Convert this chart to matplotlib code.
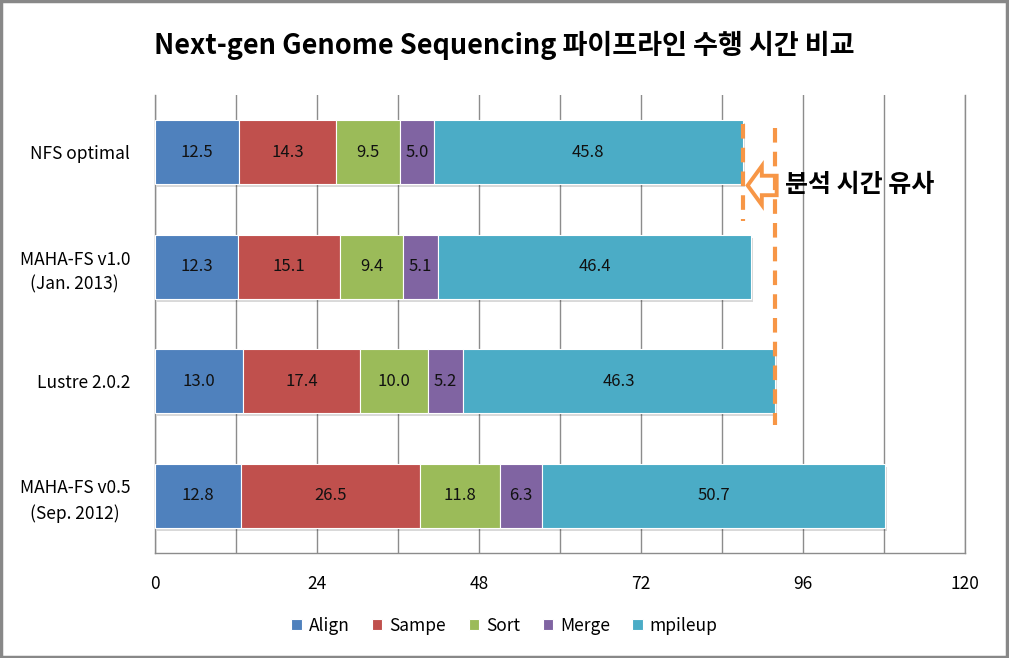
import matplotlib
matplotlib.use("Agg")
import matplotlib.pyplot as plt
from matplotlib.patches import Polygon, Rectangle
import numpy as np

plt.rcParams['font.family'] = ['Noto Sans CJK KR', 'DejaVu Sans']

categories = ["NFS optimal", "MAHA-FS v1.0\n(Jan. 2013)", "Lustre 2.0.2", "MAHA-FS v0.5\n(Sep. 2012)"]
series_names = ["Align", "Sampe", "Sort", "Merge", "mpileup"]
align = [12.5, 12.3, 13.0, 12.8]
sampe = [14.3, 15.1, 17.4, 26.5]
sort_ = [9.5, 9.4, 10.0, 11.8]
merge = [5.0, 5.1, 5.2, 6.3]
mpileup = [45.8, 46.4, 46.3, 50.7]
colors = ["#4F81BD", "#C0504D", "#9BBB59", "#8064A2", "#4BACC6"]
xticks = [0, 24, 48, 72, 96, 120]
title = "Next-gen Genome Sequencing 파이프라인 수행 시간 비교"
note = "분석 시간 유사"

data = [align, sampe, sort_, merge, mpileup]

fig = plt.figure(figsize=(10.09, 6.58), dpi=100)
ax = fig.add_axes([155/1009, 1-553/658, (965-155)/1009, (553-95)/658])

y = np.arange(len(categories))
left = np.zeros(len(categories))
for name, vals, c in zip(series_names, data, colors):
    vals = np.array(vals)
    # shadow
    ax.barh(y + 0.025, vals, left=left + 0.3, height=0.56, color="#000000", alpha=0.15, zorder=2, linewidth=0)
    ax.barh(y, vals, left=left, height=0.56, color=c, edgecolor="white", linewidth=0.8, label=name, zorder=3)
    for yi, (l, v) in enumerate(zip(left, vals)):
        ax.text(l + v/2, yi, f"{v:.1f}", ha="center", va="center", fontsize=12, color="#111111", zorder=4)
    left = left + vals

totals = left
ax.set_xlim(0, 120)
ax.set_ylim(3.5, -0.5)
ax.set_yticks(y)
ax.set_yticklabels(categories, fontsize=12.5, linespacing=1.45, multialignment="center")
grid_vals = np.arange(0, 121, 12)
ax.set_xticks(grid_vals)
ax.set_xticklabels([str(v) if v in xticks else "" for v in grid_vals], fontsize=12.5)
ax.tick_params(axis="x", length=0, pad=16)
ax.tick_params(axis="y", length=0, pad=18)
ax.grid(axis="x", color="#8C8C8C", linewidth=1.0, zorder=0)
ax.axvline(120, color="#8C8C8C", linewidth=1.0, zorder=0, clip_on=False)
for s in ["top", "right"]:
    ax.spines[s].set_visible(False)
ax.spines["left"].set_color("#8C8C8C")
ax.spines["bottom"].set_color("#8C8C8C")
ax.spines["left"].set_linewidth(1.0)
ax.spines["bottom"].set_linewidth(1.0)
ax.spines["bottom"].set_zorder(1)

orange = "#F79646"
# dashed lines at totals of NFS optimal and Lustre
ax.plot([totals[0], totals[0]], [-0.25, 0.6], color=orange, lw=3, ls=(0, (3.5, 2.2)), zorder=5)
ax.plot([totals[2], totals[2]], [-0.21, 2.38], color=orange, lw=3, ls=(0, (3.5, 2.2)), zorder=5)
# hollow arrow pointing left
tip = totals[0] + 0.7
ax_y = 0.29
arrow = Polygon([[tip, ax_y], [tip + 2.1, ax_y - 0.17], [tip + 2.1, ax_y - 0.085],
                 [tip + 4.3, ax_y - 0.085], [tip + 4.3, ax_y + 0.085], [tip + 2.1, ax_y + 0.085],
                 [tip + 2.1, ax_y + 0.17]], closed=True, fill=False, edgecolor=orange, lw=2.8, zorder=6)
ax.add_patch(arrow)
ax.text(totals[2] + 1.5, ax_y, note, ha="left", va="center", fontsize=18, fontweight="bold", color="black", zorder=6)

fig.text(0.5, 1-45/658, title, ha="center", va="center", fontsize=19.5, fontweight="bold")

handles, labels = ax.get_legend_handles_labels()
leg = fig.legend(handles, labels, loc="center", bbox_to_anchor=(0.5, 1-626/658), ncol=5, frameon=False,
                 fontsize=12.5, handlelength=0.6, handleheight=0.6, handletextpad=0.4, columnspacing=1.3)

fig.add_artist(Rectangle((0.001, 0.002), 0.997, 0.996, transform=fig.transFigure, fill=False,
                         edgecolor="#888888", linewidth=2.5))

fig.savefig("out.png", dpi=100)
